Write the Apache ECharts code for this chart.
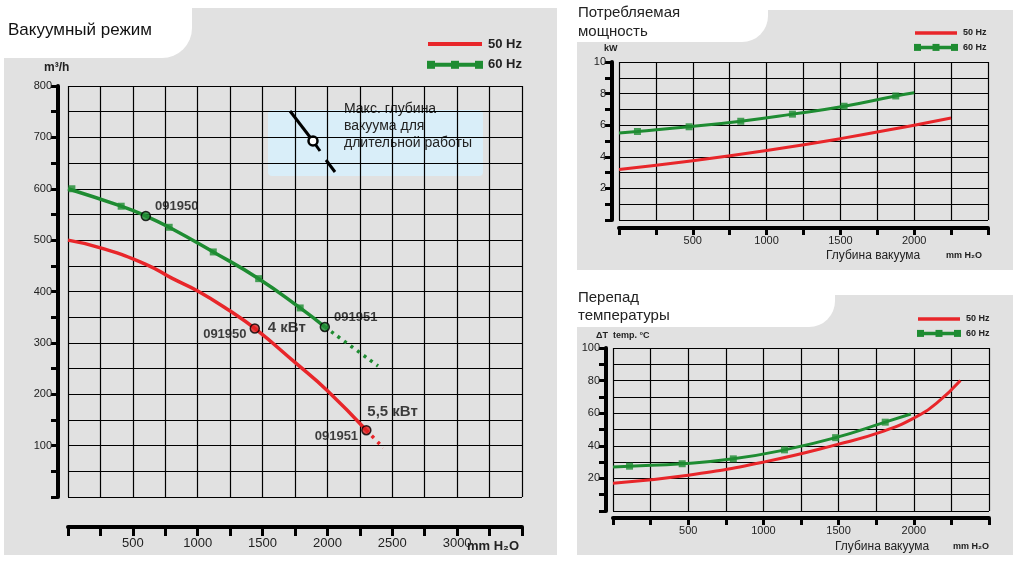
<!DOCTYPE html>
<html><head><meta charset="utf-8">
<script src="https://cdn.jsdelivr.net/npm/echarts@6/dist/echarts.min.js"></script>
<style>html,body{margin:0;padding:0;background:#fff}#c{width:1018px;height:562px}</style>
</head><body><div id="c"></div>
<script>
// Main chart: flow (m3/h) vs vacuum (mm H2O)
const flow50 = [[0,500],[250,485],[600,453],[800,426],[1000,401],[1250,362],[1440,328],[1750,262],[2000,207],[2300,130]];
const flow50dash = [[2300,130],[2430,96]];
const flow60 = [[0,600],[410,566],[600,547],[780,525],[1120,477],[1470,425],[1790,368],[1980,331]];
const flow60dash = [[1980,331],[2390,255]];
const flow60marks = [[30,600],[410,566],[780,525],[1120,477],[1470,425],[1790,368]];
const flowPoints = [
  {name:'091950', value:[600,547], color:'#1e8c32', pos:'right'},
  {name:'091951', value:[1980,331], color:'#1e8c32', pos:'right'},
  {name:'091950', value:[1440,328], color:'#e02020', pos:'left'},
  {name:'091951', value:[2300,130], color:'#e02020', pos:'left'}
];
const powerLabels = [{text:'4 кВт', value:[1440,328]},{text:'5,5 кВт', value:[2300,130]}];
// Power (kW)
const power50 = [[0,3.2],[500,3.75],[1000,4.4],[1500,5.15],[2000,6.0],[2250,6.45]];
const power60 = [[0,5.5],[125,5.6],[475,5.9],[825,6.25],[1175,6.7],[1525,7.2],[1875,7.85],[2000,8.05]];
const power60marks = [[125,5.6],[475,5.9],[825,6.25],[1175,6.7],[1525,7.2],[1875,7.85]];
// Temperature rise (°C)
const temp50 = [[0,17],[500,22],[1000,30],[1500,41],[1800,49],[2000,57],[2150,66],[2310,80]];
const temp60 = [[0,27],[110,27.5],[460,29],[800,32],[1140,37.5],[1480,45],[1810,54.5],[1980,59.5]];
const temp60marks = [[110,27.5],[460,29],[800,32],[1140,37.5],[1480,45],[1810,54.5]];

const RED='#e8262a', GREEN='#1e8c32', BLUE='#d9eef9', GRAY='#e1e1e1';
const F='"Liberation Sans", Arial, sans-serif';

// plot grids (index 0-2), x-axis grids (3-5), y-axis grids (6-8)
const P=[{l:68,t:86,w:454,h:411},{l:619,t:62,w:369,h:158},{l:613,t:348,w:376,h:163}];
const XOFF=[30,8,7], YOFF=[10,7,7];
const XMAX=[3500,2500,2500], YMAX=[800,10,100], YIV=[50,1,10], YLAB=[100,2,20];

const grids=[];
P.forEach(p=>grids.push({left:p.l,top:p.t,width:p.w,height:p.h,show:true,backgroundColor:BLUE,borderColor:'#000',borderWidth:1.5}));
P.forEach((p,i)=>grids.push({left:p.l,top:p.t,width:p.w,height:p.h+XOFF[i]}));
P.forEach((p,i)=>grids.push({left:p.l-YOFF[i],top:p.t,width:p.w,height:p.h}));

const hidden=(gi,max)=>({type:'value',gridIndex:gi,min:0,max:max,show:false});
const plotX=i=>({type:'value',gridIndex:i,min:0,max:XMAX[i],interval:250,axisLine:{show:false},axisTick:{show:false},axisLabel:{show:false},
  splitLine:{show:true,lineStyle:{color:'#000',width:1.2}}});
const plotY=i=>({type:'value',gridIndex:i,min:0,max:YMAX[i],interval:YIV[i],axisLine:{show:false},axisTick:{show:false},axisLabel:{show:false},
  splitLine:{show:true,lineStyle:{color:'#000',width:1.2}}});
const visX=i=>({type:'value',gridIndex:3+i,min:0,max:XMAX[i],interval:250,
  axisLine:{show:true,onZero:false,lineStyle:{color:'#000',width:4}},
  axisTick:{show:true,inside:false,length:i==0?9:7,lineStyle:{color:'#000',width:3}},
  axisLabel:{color:'#222',fontSize:i==0?13:11,fontFamily:F,margin:i==0?10:7,formatter:v=>(v>0&&v<XMAX[i]&&v%500==0)?v:''},
  splitLine:{show:false}});
const visY=i=>({type:'value',gridIndex:6+i,min:0,max:YMAX[i],interval:YIV[i],
  axisLine:{show:true,onZero:false,lineStyle:{color:'#000',width:4}},
  axisTick:{show:true,inside:false,length:7,lineStyle:{color:'#000',width:3}},
  axisLabel:{color:'#222',fontSize:11,fontFamily:F,margin:6,formatter:v=>(v>0&&Math.abs(v/YLAB[i]-Math.round(v/YLAB[i]))<1e-6)?v:''},
  splitLine:{show:false}});

const xAxis=[plotX(0),plotX(1),plotX(2),visX(0),visX(1),visX(2),hidden(6,1),hidden(7,1),hidden(8,1)];
const yAxis=[plotY(0),plotY(1),plotY(2),hidden(3,1),hidden(4,1),hidden(5,1),visY(0),visY(1),visY(2)];

function line(xi,data,color,w,dash){return {type:'line',xAxisIndex:xi,yAxisIndex:xi,data:data,smooth:true,symbol:'none',
  lineStyle:{color:color,width:w,type:dash?[3,5]:'solid'},z:5,silent:true};}
function marks(xi,data,size){return {type:'scatter',xAxisIndex:xi,yAxisIndex:xi,data:data,symbol:'rect',symbolSize:size,
  itemStyle:{color:GREEN},z:6,silent:true};}

function legend(x,y,len,fs,lw){return [
  {type:'line',shape:{x1:x,y1:y,x2:x+len,y2:y},style:{stroke:RED,lineWidth:lw}},
  {type:'text',style:{x:x+len+6,y:y,text:'50 Hz',font:'bold '+fs+'px '+F,fill:'#222',verticalAlign:'middle'}},
  {type:'line',shape:{x1:x,y1:y+fs*1.6,x2:x+len,y2:y+fs*1.6},style:{stroke:GREEN,lineWidth:lw}},
  {type:'rect',shape:{x:x-1,y:y+fs*1.6-lw,width:lw*2,height:lw*2},style:{fill:GREEN}},
  {type:'rect',shape:{x:x+len/2-lw,y:y+fs*1.6-lw,width:lw*2,height:lw*2},style:{fill:GREEN}},
  {type:'rect',shape:{x:x+len-lw*2+1,y:y+fs*1.6-lw,width:lw*2,height:lw*2},style:{fill:GREEN}},
  {type:'text',style:{x:x+len+6,y:y+fs*1.6,text:'60 Hz',font:'bold '+fs+'px '+F,fill:'#222',verticalAlign:'middle'}}
];}

const chart = echarts.init(document.getElementById('c'),null,{renderer:'canvas'});
chart.setOption({
  backgroundColor:'#fff', animation:false,
  grid:grids, xAxis:xAxis, yAxis:yAxis,
  series:[
    line(0,flow50,RED,3.5,false), line(0,flow50dash,RED,3.5,true),
    line(0,flow60,GREEN,3.5,false), line(0,flow60dash,GREEN,3.5,true),
    marks(0,flow60marks,7),
    {type:'scatter',xAxisIndex:0,yAxisIndex:0,symbol:'circle',symbolSize:9,z:8,silent:true,
     data:flowPoints.map(p=>({value:p.value,name:p.name,itemStyle:{color:p.color,borderColor:'#000',borderWidth:1.5},
       label:{show:true,position:p.pos,distance:p.pos=='left'?3:4,offset:p.pos=='left'?[0,6]:[0,-10],formatter:p.name,color:'#111',fontWeight:'bold',fontSize:13,fontFamily:F}}))},
    {type:'scatter',xAxisIndex:0,yAxisIndex:0,symbolSize:0,z:8,silent:true,
     data:powerLabels.map((p,i)=>({value:p.value,label:{show:true,position:'right',offset:i==0?[8,-1]:[-4,-18],formatter:p.text,color:'#111',fontWeight:'bold',fontSize:15,fontFamily:F}}))},
    line(1,power50,RED,3,false), line(1,power60,GREEN,3,false), marks(1,power60marks,7),
    line(2,temp50,RED,3,false), line(2,temp60,GREEN,3,false), marks(2,temp60marks,7)
  ],
  graphic:[
    {type:'group',z:-10,silent:true,children:[
      {type:'rect',shape:{x:4,y:8,width:553,height:547},style:{fill:GRAY}},
      {type:'rect',shape:{x:0,y:0,width:192,height:58,r:[0,0,30,0]},style:{fill:'#fff'}},
      {type:'rect',shape:{x:577,y:10,width:436,height:260},style:{fill:GRAY}},
      {type:'rect',shape:{x:570,y:0,width:198,height:42,r:[0,0,26,0]},style:{fill:'#fff'}},
      {type:'rect',shape:{x:577,y:295,width:436,height:260},style:{fill:GRAY}},
      {type:'rect',shape:{x:570,y:285,width:265,height:42,r:[0,0,26,0]},style:{fill:'#fff'}}
    ]},
    {type:'text',silent:true,style:{x:8,y:30,text:'Вакуумный режим',font:'17px '+F,fill:'#111',verticalAlign:'middle'}},
    {type:'text',silent:true,style:{x:44,y:68,text:'m³/h',font:'bold 12px '+F,fill:'#222',verticalAlign:'middle'}},
    {type:'text',silent:true,style:{x:467,y:546,text:'mm H₂O',font:'bold 13px '+F,fill:'#222',verticalAlign:'middle'}},
    {type:'text',silent:true,style:{x:578,y:22,text:'Потребляемая\nмощность',font:'15px '+F,fill:'#222',verticalAlign:'middle',lineHeight:19}},
    {type:'text',silent:true,style:{x:604,y:49,text:'kW',font:'bold 9px '+F,fill:'#222',verticalAlign:'middle'}},
    {type:'text',silent:true,style:{x:826,y:256,text:'Глубина вакуума',font:'12px '+F,fill:'#222',verticalAlign:'middle'}},
    {type:'text',silent:true,style:{x:946,y:256,text:'mm H₂O',font:'bold 9px '+F,fill:'#222',verticalAlign:'middle'}},
    {type:'text',silent:true,style:{x:578,y:307,text:'Перепад\nтемпературы',font:'15px '+F,fill:'#222',verticalAlign:'middle',lineHeight:18}},
    {type:'text',silent:true,style:{x:596,y:336,text:'ΔT  temp. °C',font:'bold 9px '+F,fill:'#222',verticalAlign:'middle'}},
    {type:'text',silent:true,style:{x:835,y:547,text:'Глубина вакуума',font:'12px '+F,fill:'#222',verticalAlign:'middle'}},
    {type:'text',silent:true,style:{x:953,y:547,text:'mm H₂O',font:'bold 9px '+F,fill:'#222',verticalAlign:'middle'}},
    {type:'group',z:20,silent:true,children:legend(428,44,54,13,4)},
    {type:'group',z:20,silent:true,children:legend(915,33,42,9,3.5)},
    {type:'group',z:20,silent:true,children:legend(918,319,42,9,3.5)},
    {type:'group',z:20,silent:true,children:[
      {type:'rect',shape:{x:268,y:110,width:215,height:66,r:4},style:{fill:BLUE}},
      {type:'line',shape:{x1:290,y1:111,x2:313,y2:141},style:{stroke:'#000',lineWidth:3}},
      {type:'line',shape:{x1:313,y1:141,x2:320,y2:151},style:{stroke:'#000',lineWidth:3}},
      {type:'line',shape:{x1:326,y1:160,x2:335,y2:172},style:{stroke:'#000',lineWidth:3}},
      {type:'circle',shape:{cx:313,cy:141,r:4.5},style:{fill:'#fff',stroke:'#000',lineWidth:2.5}},
      {type:'text',style:{x:344,y:126,text:'Макс. глубина\nвакуума для\nдлительной работы',font:'14px '+F,fill:'#222',lineHeight:17,verticalAlign:'middle'}}
    ]}
  ]
});
</script></body></html>
